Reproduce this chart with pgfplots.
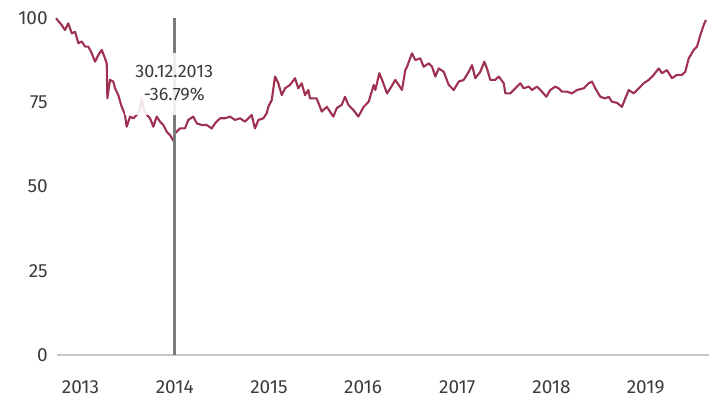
\documentclass[border=0pt]{standalone}
\usepackage{fontspec}
\setmainfont{Fira Sans}
\usepackage{pgfplots}
\pgfplotsset{compat=1.18}
\definecolor{linered}{HTML}{9E3050}
\definecolor{txt}{HTML}{3C3C3C}
\definecolor{basegray}{HTML}{C8C8C2}
\definecolor{vgray}{HTML}{7A7A7A}
\begin{document}
\begin{tikzpicture}
\begin{axis}[
  name=ax,
  scale only axis,
  width=326pt, height=168.35pt,
  xmin=2012.747, xmax=2019.669,
  ymin=0, ymax=100,
  clip=false,
  axis line style={draw=none},
  xtick={2013,2014,2015,2016,2017,2018,2019},
  xticklabels={2013,2014,2015,2016,2017,2018,2019},
  ytick={0,25,50,75,100},
  yticklabels={0,25,50,75,100},
  major tick length=0pt,
  tick style={draw=none},
  xtick pos=bottom, ytick pos=left,
  tick label style={font=\fontsize{9.5}{11}\selectfont, text=txt},
  xticklabel style={anchor=north, inner sep=0pt, yshift=-12.5pt},
  yticklabel style={anchor=east, inner sep=0pt, xshift=-4.3pt},
  /pgf/number format/assume math mode=true,
]
% baseline
\addplot[basegray, line width=0.8pt] coordinates {(2012.747,0) (2019.669,0)};
% index series
\addplot[linered, line width=1.05pt, line join=round] coordinates {
(2012.740,100.0)(2012.800,98.0)(2012.835,96.5)(2012.870,98.5)(2012.907,95.5)
(2012.942,96.0)(2012.977,92.6)(2013.013,93.1)(2013.048,91.6)(2013.083,91.6)
(2013.119,89.6)(2013.154,87.1)(2013.189,89.1)(2013.225,90.6)(2013.260,88.1)
(2013.278,86.6)(2013.285,76.2)(2013.313,81.7)(2013.348,81.2)(2013.366,79.2)
(2013.401,77.2)(2013.430,74.3)(2013.472,71.3)(2013.490,67.8)(2013.526,70.8)
(2013.561,70.3)(2013.597,71.3)(2013.621,72.2)(2013.650,76.2)(2013.674,72.8)
(2013.703,71.3)(2013.738,70.3)(2013.773,67.8)(2013.809,70.8)(2013.844,69.3)
(2013.879,68.3)(2013.915,66.3)(2013.950,65.3)(2013.995,63.21)(2014.003,65.8)
(2014.056,67.3)(2014.109,67.3)(2014.144,69.8)(2014.197,70.8)(2014.234,68.8)
(2014.287,68.3)(2014.340,68.3)(2014.393,67.3)(2014.428,68.8)(2014.481,70.3)
(2014.534,70.3)(2014.587,70.8)(2014.640,69.8)(2014.693,70.3)(2014.746,69.3)
(2014.781,70.3)(2014.817,71.3)(2014.852,67.3)(2014.888,69.8)(2014.941,70.3)
(2014.977,71.8)(2014.994,73.7)(2015.030,75.7)(2015.065,82.7)(2015.100,80.7)
(2015.136,77.2)(2015.171,79.2)(2015.224,80.2)(2015.277,82.2)(2015.312,79.2)
(2015.348,80.7)(2015.383,77.2)(2015.418,78.7)(2015.436,76.2)(2015.507,76.2)
(2015.561,72.3)(2015.614,73.7)(2015.649,72.3)(2015.684,70.8)(2015.720,73.3)
(2015.773,74.3)(2015.808,76.7)(2015.843,74.3)(2015.896,72.8)(2015.949,70.8)
(2016.006,73.7)(2016.059,75.2)(2016.113,80.2)(2016.130,78.7)(2016.172,83.7)
(2016.201,81.7)(2016.254,77.7)(2016.289,79.2)(2016.342,81.7)(2016.378,80.2)
(2016.413,78.7)(2016.448,84.6)(2016.466,85.6)(2016.519,89.6)(2016.554,87.6)
(2016.607,88.1)(2016.643,85.6)(2016.696,86.6)(2016.732,85.6)(2016.767,82.7)
(2016.803,85.1)(2016.856,84.1)(2016.909,80.2)(2016.962,78.7)(2017.015,81.2)
(2017.068,81.7)(2017.121,84.1)(2017.156,86.1)(2017.191,82.2)(2017.244,84.1)
(2017.287,87.1)(2017.315,85.1)(2017.350,81.7)(2017.403,81.7)(2017.440,82.7)
(2017.493,80.7)(2017.510,77.7)(2017.563,77.7)(2017.616,79.2)(2017.669,80.7)
(2017.705,79.2)(2017.758,79.7)(2017.793,78.7)(2017.846,79.7)(2017.899,78.2)
(2017.945,76.7)(2017.987,78.7)(2018.040,79.7)(2018.076,79.2)(2018.112,78.2)
(2018.165,78.2)(2018.218,77.7)(2018.271,78.7)(2018.342,79.2)(2018.395,80.7)
(2018.430,81.2)(2018.465,79.2)(2018.518,76.7)(2018.571,76.2)(2018.607,76.7)
(2018.642,75.2)(2018.695,74.9)(2018.748,73.7)(2018.783,76.2)(2018.820,78.7)
(2018.873,77.7)(2018.926,79.2)(2018.979,80.7)(2019.032,81.7)(2019.085,83.2)
(2019.138,85.1)(2019.173,83.7)(2019.226,84.6)(2019.279,82.2)(2019.332,83.2)
(2019.385,83.2)(2019.420,84.1)(2019.457,88.1)(2019.510,90.6)(2019.545,91.6)
(2019.580,95.0)(2019.616,98.0)(2019.640,99.5)
};
% marker line at 30.12.2013
\addplot[vgray, line width=1.5pt] coordinates {(2013.995,0) (2013.995,100)};
% tooltip label
\node[fill=white, fill opacity=0.88, text opacity=1, text=txt,
      align=center, inner xsep=5pt, inner ysep=2.5pt,
      font=\fontsize{9}{11.5}\selectfont, minimum height=31pt]
  at (axis cs:2013.995,80.6) {30.12.2013\\-36.79\%};
\end{axis}
\pgfresetboundingbox
\path[use as bounding box] ([xshift=-28.35pt, yshift=-24.5pt]ax.south west)
  rectangle ([xshift=4.15pt, yshift=9.15pt]ax.north east);
\end{tikzpicture}
\end{document}
